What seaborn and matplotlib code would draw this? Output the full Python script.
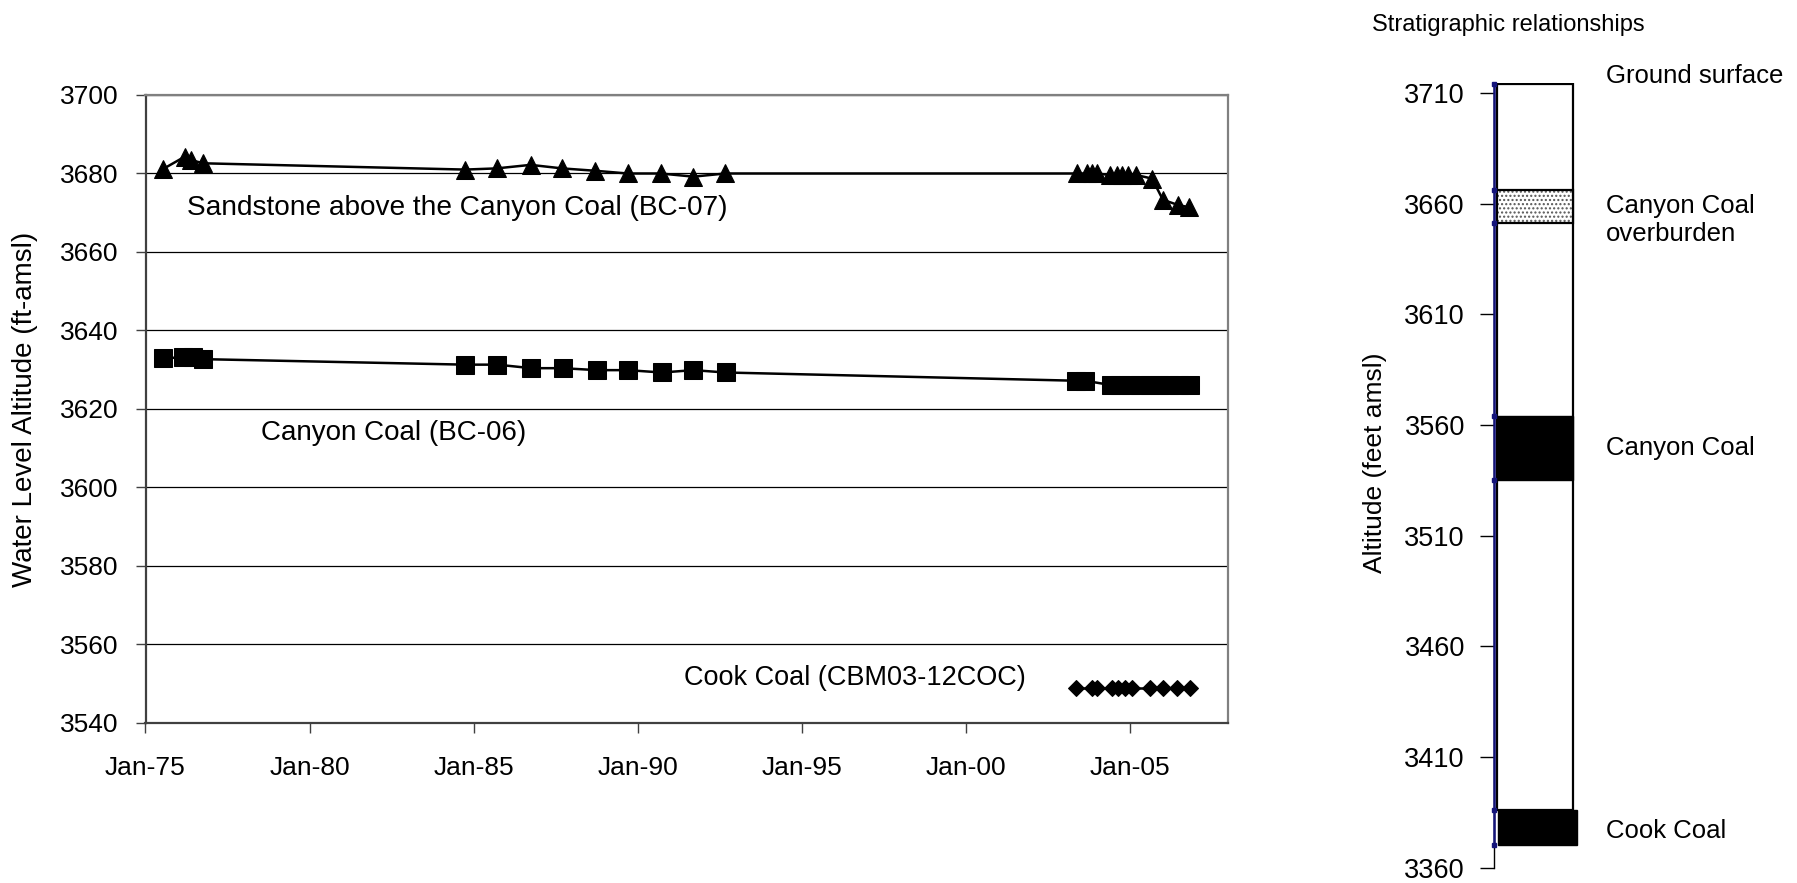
import matplotlib
matplotlib.use("Agg")
import matplotlib.pyplot as plt
import matplotlib.dates as mdates
import matplotlib.transforms as mtransforms
import pandas as pd
import seaborn as sns

# ---------------- data ----------------
bc07_dates = ["1975-07-12", "1976-03-14", "1976-05-26", "1976-10-05", "1984-09-27",
              "1985-09-13", "1986-09-27", "1987-09-13", "1988-09-13", "1989-09-13",
              "1990-09-13", "1991-09-13", "1992-09-01", "2003-05-27", "2003-09-13",
              "2003-11-06", "2004-01-05", "2004-05-27", "2004-08-08", "2004-10-05",
              "2004-12-16", "2005-03-15", "2005-09-05", "2006-01-03", "2006-06-18",
              "2006-10-20"]
bc07_level = [3681.1, 3684.3, 3683.4, 3682.6, 3681.0, 3681.3, 3682.2, 3681.3, 3680.7,
              3680.0, 3680.0, 3679.2, 3680.0, 3680.0, 3680.0, 3680.0, 3680.0, 3679.6,
              3679.6, 3679.6, 3679.6, 3679.6, 3678.7, 3673.3, 3672.0, 3671.4]

bc06_dates = ["1975-07-15", "1976-02-25", "1976-06-15", "1976-10-05", "1984-09-27",
              "1985-09-20", "1986-10-05", "1987-09-17", "1988-10-05", "1989-09-13",
              "1990-09-27", "1991-09-13", "1992-09-05", "2003-05-15", "2003-08-22",
              "2004-06-03", "2004-09-13", "2005-01-01", "2005-04-20", "2005-08-08",
              "2005-11-25", "2006-03-15", "2006-07-01", "2006-10-27"]
bc06_level = [3632.9, 3633.2, 3633.2, 3632.7, 3631.3, 3631.3, 3630.4, 3630.4, 3629.9,
              3629.9, 3629.3, 3629.9, 3629.3, 3627.2, 3627.2, 3626.1, 3626.1, 3626.1,
              3626.1, 3626.1, 3626.1, 3626.1, 3626.1, 3626.1]

cbm_dates = ["2003-05-12", "2003-11-03", "2003-12-28", "2004-06-13", "2004-08-25",
             "2004-11-10", "2005-01-22", "2005-08-08", "2006-01-01", "2006-06-05",
             "2006-11-03"]
cbm_level = [3549.0] * 11

series_labels = ["Sandstone above the Canyon Coal (BC-07)", "Canyon Coal (BC-06)",
                 "Cook Coal (CBM03-12COC)"]
x_tick_years = [1975, 1980, 1985, 1990, 1995, 2000, 2005]
left_yticks = [3540, 3560, 3580, 3600, 3620, 3640, 3660, 3680, 3700]

strat_ticks = [3360, 3410, 3460, 3510, 3560, 3610, 3660, 3710]
layer_names = ["Ground surface", "Canyon Coal\noverburden", "Canyon Coal", "Cook Coal"]
layer_top = [3714, 3666, 3564, 3386]
layer_bottom = [3386, 3651, 3535, 3370]
boundary_points = [3714, 3666, 3651, 3564, 3535, 3386, 3370]

# ---------------- style ----------------
sns.set_theme(style="white")
plt.rcParams["font.family"] = ["Liberation Sans", "DejaVu Sans"]
plt.rcParams["text.color"] = "black"
plt.rcParams["axes.labelcolor"] = "black"
plt.rcParams["xtick.color"] = "black"
plt.rcParams["ytick.color"] = "black"

W, H = 1797, 883
fig = plt.figure(figsize=(W / 100, H / 100), dpi=100)
fig.patch.set_facecolor("white")

# ---------------- left chart ----------------
ax = fig.add_axes([145.5 / W, (H - 723) / H, (1228.3 - 145.5) / W, (723 - 95) / H])

df07 = pd.DataFrame({"date": pd.to_datetime(bc07_dates), "level": bc07_level})
df06 = pd.DataFrame({"date": pd.to_datetime(bc06_dates), "level": bc06_level})
dfc = pd.DataFrame({"date": pd.to_datetime(cbm_dates), "level": cbm_level})

common = dict(x="date", y="level", color="black", estimator=None, sort=False,
              linewidth=1.8, markeredgecolor="black", ax=ax, zorder=5, clip_on=False)
sns.lineplot(data=df07, marker="^", markersize=13, **common)
sns.lineplot(data=df06, marker="s", markersize=12.5, **common)
sns.lineplot(data=dfc, marker="D", markersize=7.8, **common)

ax.set_xlim(pd.Timestamp("1975-01-01"), pd.Timestamp("2008-01-01"))
ax.set_xticks([pd.Timestamp(f"{y}-01-01") for y in x_tick_years])
ax.xaxis.set_major_formatter(mdates.DateFormatter("%b-%y"))
ax.set_ylim(left_yticks[0], left_yticks[-1])
ax.set_yticks(left_yticks)
ax.set_xlabel("")
ax.set_ylabel("")
ax.yaxis.grid(True, color="black", linewidth=0.9)
ax.xaxis.grid(False)
ax.set_axisbelow(True)
for side in ["top", "right"]:
    ax.spines[side].set_color("#808080")
    ax.spines[side].set_linewidth(1.6)
for side in ["left", "bottom"]:
    ax.spines[side].set_color("#404040")
    ax.spines[side].set_linewidth(1.6)
ax.tick_params(axis="both", which="major", direction="out", length=7.5, width=1,
               color="#404040", labelsize=19, labelcolor="black",
               left=True, bottom=True)
ax.tick_params(axis="y", pad=12)
ax.tick_params(axis="x", pad=16)

fig.text(25 / W, 1 - 409 / H, "Water Level Altitude (ft-amsl)", rotation=90,
         ha="center", va="center", fontsize=20, color="black")

ax.text(pd.Timestamp("1976-04-05"), 3671.2, series_labels[0], fontsize=20.2,
        ha="left", va="center", color="black")
ax.text(pd.Timestamp("1978-07-10"), 3614.0, series_labels[1], fontsize=20,
        ha="left", va="center", color="black")
ax.text(pd.Timestamp("1991-06-01"), 3551.4, series_labels[2], fontsize=19.5,
        ha="left", va="center", color="black")

# ---------------- stratigraphic column ----------------
ax2 = fig.add_axes([1494 / W, (H - 867.5) / H, 100 / W, (867.5 - 82.9) / H])
ax2.set_xlim(0, 1)
ax2.set_ylim(3360, 3714.5)
ax2.set_facecolor("white")

# outer column (ground surface down to top of Cook Coal)
ax2.bar(0.027, layer_top[0] - layer_bottom[0], bottom=layer_bottom[0], width=0.766,
        align="edge", color="white", edgecolor="black", linewidth=1.6, zorder=2)
# overburden (stippled)
ax2.bar(0.027, layer_top[1] - layer_bottom[1], bottom=layer_bottom[1], width=0.766,
        align="edge", color="white", edgecolor="#555555", hatch="....", linewidth=0,
        zorder=3)
ax2.bar(0.027, layer_top[1] - layer_bottom[1], bottom=layer_bottom[1], width=0.766,
        align="edge", fill=False, edgecolor="black", linewidth=1.6, zorder=4)
# Canyon Coal
ax2.bar(0.027, layer_top[2] - layer_bottom[2], bottom=layer_bottom[2], width=0.766,
        align="edge", color="black", edgecolor="black", linewidth=1.0, zorder=4)
# Cook Coal
ax2.bar(0.043, layer_top[3] - layer_bottom[3], bottom=layer_bottom[3], width=0.784,
        align="edge", color="black", edgecolor="black", linewidth=1.0, zorder=4)

ax2.plot([0] * len(boundary_points), boundary_points, color="#14147a", linewidth=1.8,
         marker="s", markersize=2.5, clip_on=False, zorder=6)

ax2.set_yticks(strat_ticks)
ax2.set_xticks([])
for side in ["top", "right", "bottom"]:
    ax2.spines[side].set_visible(False)
ax2.spines["left"].set_color("black")
ax2.spines["left"].set_linewidth(1.0)
ax2.tick_params(axis="y", direction="out", length=10, width=1, color="black",
                labelsize=19.5, labelcolor="black", pad=11, left=True)

fig.text(1375 / W, 1 - 463 / H, "Altitude (feet amsl)", rotation=90,
         ha="center", va="center", fontsize=19, color="black")
fig.text(1372 / W, 1 - 25 / H, "Stratigraphic relationships", ha="left",
         va="center", fontsize=17, color="black")

label_tr = mtransforms.blended_transform_factory(fig.transFigure, ax2.transData)
label_x = 1606 / W
ax2.text(label_x, layer_top[0] + 3.6, layer_names[0], transform=label_tr,
         ha="left", va="center", fontsize=18.5, color="black")
ax2.text(label_x, (layer_top[1] + layer_bottom[1]) / 2 - 6, layer_names[1],
         transform=label_tr, ha="left", va="center", fontsize=18.5, linespacing=1.2,
         color="black")
ax2.text(label_x, (layer_top[2] + layer_bottom[2]) / 2, layer_names[2],
         transform=label_tr, ha="left", va="center", fontsize=18.5, color="black")
ax2.text(label_x, (layer_top[3] + layer_bottom[3]) / 2 - 1.5, layer_names[3],
         transform=label_tr, ha="left", va="center", fontsize=18.5, color="black")

fig.savefig("out.png", dpi=100, facecolor="white")
